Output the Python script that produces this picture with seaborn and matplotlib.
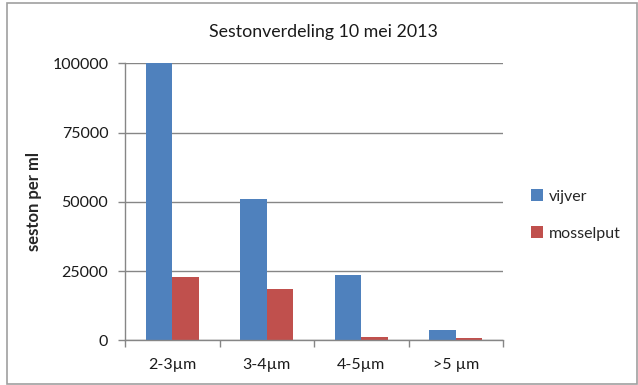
import matplotlib
matplotlib.use("Agg")
import matplotlib.pyplot as plt
import seaborn as sns
import pandas as pd
from matplotlib.patches import Rectangle
from matplotlib.ticker import FixedLocator

# Seston counts per size class
categories = ["2-3µm", "3-4µm", "4-5µm", ">5 µm"]
vijver = [100000, 51100, 23600, 3600]
mosselput = [22700, 18400, 1300, 850]
series_names = ["vijver", "mosselput"]
yticks = [0, 25000, 50000, 75000, 100000]

df = pd.DataFrame({
    "klasse": categories * 2,
    "seston": vijver + mosselput,
    "locatie": [series_names[0]] * len(categories) + [series_names[1]] * len(categories),
})

sns.set_theme(style="white")
plt.rcParams["font.family"] = ["Lato", "DejaVu Sans"]

fig = plt.figure(figsize=(6.38, 3.85), dpi=100)
ax = fig.add_axes([125 / 638, 1 - 340.3 / 385, 378 / 638, 277 / 385])

grid_col = "#868686"
sns.barplot(
    data=df, x="klasse", y="seston", hue="locatie",
    palette=["#4F81BD", "#C0504D"], width=0.56, saturation=1,
    errorbar=None, ax=ax, linewidth=0,
)

ax.set_ylim(0, 100000)
ax.set_xlim(-0.5, len(categories) - 0.5)
ax.set_yticks(yticks)
ax.set_yticklabels([str(v) for v in yticks], fontsize=11.5, color="#1a1a1a")
ax.yaxis.grid(True, color=grid_col, linewidth=1)
ax.set_axisbelow(True)

ax.tick_params(axis="x", which="major", length=0, pad=13, labelsize=11.5, labelcolor="#1a1a1a")
ax.xaxis.set_minor_locator(FixedLocator([i - 0.5 for i in range(len(categories) + 1)]))
ax.tick_params(axis="x", which="minor", length=5, width=1, color=grid_col, direction="out", bottom=True)
ax.tick_params(axis="y", length=5, width=1, color=grid_col, direction="out", left=True, pad=7)

for side in ["top", "right"]:
    ax.spines[side].set_visible(False)
for side in ["left", "bottom"]:
    ax.spines[side].set_color(grid_col)
    ax.spines[side].set_linewidth(1)

ax.set_xlabel("")
ax.set_ylabel("seston per ml", fontsize=12, fontweight="bold", labelpad=7)
fig.text(323 / 638, 1 - 31.5 / 385, "Sestonverdeling 10 mei 2013",
         ha="center", va="center", fontsize=12.8, color="#1a1a1a")

handles, labels = ax.get_legend_handles_labels()
ax.legend(handles, labels, loc="center left", bbox_to_anchor=(531 / 638, 1 - 215 / 385),
          bbox_transform=fig.transFigure, frameon=False, fontsize=11.5,
          handlelength=0.75, handleheight=0.75, handletextpad=0.35, labelspacing=1.4,
          borderaxespad=0, borderpad=0)

# chart area frame
fig.patches.append(Rectangle((6.5 / 638, 1.5 / 385), 630 / 638, 381 / 385,
                             transform=fig.transFigure, fill=False,
                             edgecolor="#A0A0A0", linewidth=1.2))

fig.savefig("out.png", dpi=100, facecolor="white")
